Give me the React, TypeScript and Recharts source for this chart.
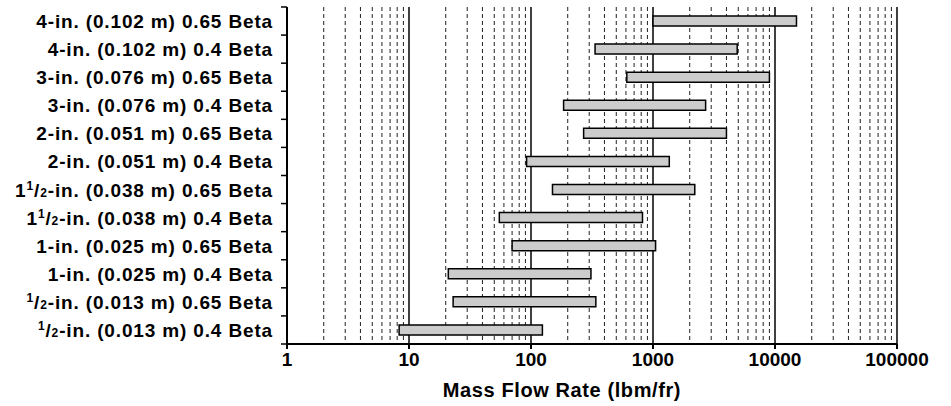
import { BarChart, Bar, XAxis, YAxis, CartesianGrid, Label } from 'recharts';

// pipe size, diameter and beta ratio for each row, top to bottom
const SIZES = ['4', '4', '3', '3', '2', '2', '1 1/2', '1 1/2', '1', '1', '1/2', '1/2'];
const DIAMETERS = ['0.102', '0.102', '0.076', '0.076', '0.051', '0.051', '0.038', '0.038', '0.025', '0.025', '0.013', '0.013'];
const BETAS = ['0.65', '0.4', '0.65', '0.4', '0.65', '0.4', '0.65', '0.4', '0.65', '0.4', '0.65', '0.4'];

// flow range, lbm/fr
const MIN_FLOW = [1000, 335, 610, 185, 270, 92, 150, 55, 70, 21, 23, 8.3];
const MAX_FLOW = [15000, 4900, 9000, 2700, 4000, 1360, 2200, 820, 1050, 310, 340, 124];

const DECADES = [1, 10, 100, 1000, 10000, 100000];
const MINORS = [2, 3, 4, 5, 6, 7, 8, 9];

const FONT = '"Liberation Sans", Arial, sans-serif';

const data = SIZES.map((s, i) => ({
  name: `${s}-in. (${DIAMETERS[i]} m) ${BETAS[i]} Beta`,
  range: [MIN_FLOW[i], MAX_FLOW[i]],
}));

const minorLines: number[] = [];
DECADES.slice(0, -1).forEach((d) => MINORS.forEach((m) => minorLines.push(d * m)));
const majorLines = DECADES.slice(1);

const SizeText = ({ size }: { size: string }) => {
  const parts = size.split(' ');
  const whole = parts.length === 2 ? parts[0] : size.includes('/') ? '' : size;
  const frac = size.includes('/') ? parts[parts.length - 1].split('/') : null;
  return (
    <>
      {whole && <tspan>{whole}</tspan>}
      {frac && (
        <>
          <tspan fontSize={12} dy={-7}>{frac[0]}</tspan>
          <tspan dy={7}>/</tspan>
          <tspan fontSize={12}>{frac[1]}</tspan>
        </>
      )}
    </>
  );
};

const RowTick = (props: any) => {
  const { x, y, payload, index } = props;
  const i = index ?? payload.index;
  const half = payload.offset || 14;
  const ax = x + 14;
  return (
    <g>
      <text
        x={x}
        y={y + 7}
        textAnchor="end"
        fontFamily={FONT}
        fontWeight="bold"
        fontSize={19}
        letterSpacing={0.85}
        fill="#000"
      >
        <SizeText size={SIZES[i]} />
        <tspan>{`-in. (${DIAMETERS[i]} m) ${BETAS[i]} Beta`}</tspan>
      </text>
      <line x1={ax - 6} x2={ax} y1={y + half} y2={y + half} stroke="#000" strokeWidth={1.5} />
      {i === 0 && <line x1={ax - 6} x2={ax} y1={y - half} y2={y - half} stroke="#000" strokeWidth={1.5} />}
    </g>
  );
};

export default function App() {
  return (
    <div style={{ position: 'absolute', left: 0, top: 0 }}>
      <BarChart
        width={951}
        height={406}
        data={data}
        layout="vertical"
        margin={{ top: 7, right: 54, bottom: 0, left: 0 }}
      >
        <CartesianGrid
          horizontal={false}
          stroke="#222"
          strokeDasharray="4 3"
          verticalValues={minorLines}
          syncWithTicks
        />
        <CartesianGrid
          horizontal={false}
          stroke="#000"
          strokeWidth={1.5}
          verticalValues={majorLines}
          syncWithTicks
        />
        <XAxis
          type="number"
          dataKey="range"
          scale="log"
          domain={[1, 100000]}
          ticks={DECADES}
          interval={0}
          allowDataOverflow
          height={62}
          tickSize={5}
          tickMargin={4}
          stroke="#000"
          strokeWidth={2}
          tick={{ fill: '#000', fontFamily: FONT, fontWeight: 'bold', fontSize: 19 }}
          tickFormatter={(v: number) => String(v)}
        >
          <Label
            value="Mass Flow Rate (lbm/fr)"
            position="insideBottom"
            offset={9}
            dx={-30}
            fill="#000"
            fontFamily={FONT}
            fontWeight="bold"
            fontSize={20}
            letterSpacing={0.6}
          />
        </XAxis>
        <XAxis
          xAxisId="top"
          orientation="top"
          type="number"
          scale="log"
          domain={[1, 100000]}
          allowDataOverflow
          height={0}
          tick={false}
          tickLine={false}
          stroke="#000"
          strokeWidth={2}
        />
        <YAxis
          type="category"
          dataKey="name"
          width={287}
          interval={0}
          tickLine={false}
          tickSize={6}
          tickMargin={8}
          stroke="#000"
          strokeWidth={2}
          tick={RowTick}
        />
        <Bar
          dataKey="range"
          barSize={10}
          fill="#cccccc"
          stroke="#000"
          strokeWidth={1.5}
          isAnimationActive={false}
        />
      </BarChart>
    </div>
  );
}
